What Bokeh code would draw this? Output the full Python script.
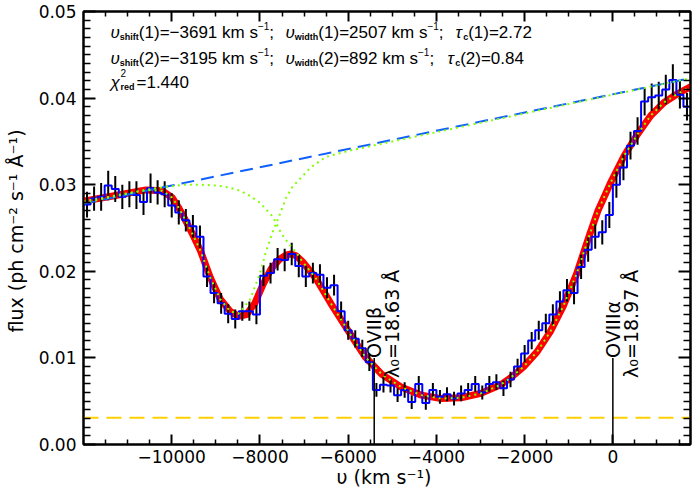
from math import pi
from bokeh.plotting import figure
from bokeh.models import Range1d, FixedTicker, LinearAxis, Label, NumeralTickFormatter
from bokeh.embed import file_html
from bokeh.resources import INLINE

# ---------------- data ----------------
bin_center = [-11920, -11760, -11600, -11440, -11280, -11120, -10960, -10800, -10640, -10480,
              -10320, -10160, -10000, -9840, -9680, -9520, -9360, -9200, -9040, -8880,
              -8720, -8560, -8400, -8240, -8080, -7920, -7760, -7600, -7440, -7280,
              -7120, -6960, -6800, -6640, -6480, -6320, -6160, -6000, -5840, -5680,
              -5520, -5360, -5200, -5040, -4880, -4720, -4560, -4400, -4240, -4080,
              -3920, -3760, -3600, -3440, -3280, -3120, -2960, -2800, -2640, -2480,
              -2320, -2160, -2000, -1840, -1680, -1520, -1360, -1200, -1040, -880,
              -720, -560, -400, -240, -80, 80, 240, 400, 560, 720,
              880, 1040, 1200, 1360, 1520, 1680]
flux = [0.0277, 0.0284, 0.0286, 0.0299, 0.0295, 0.0286, 0.0289, 0.0288, 0.0280, 0.0296,
        0.0291, 0.0289, 0.0276, 0.0268, 0.0259, 0.0252, 0.0240, 0.0194, 0.0175, 0.0163,
        0.0151, 0.0145, 0.0154, 0.0154, 0.0150, 0.0195, 0.0198, 0.0214, 0.0213, 0.0220,
        0.0206, 0.0194, 0.0198, 0.0196, 0.0181, 0.0184, 0.0154, 0.0132, 0.0122, 0.0111,
        0.0095, 0.0063, 0.0069, 0.0068, 0.0057, 0.0063, 0.0049, 0.0070, 0.0048, 0.0063,
        0.0055, 0.0058, 0.0053, 0.0059, 0.0063, 0.0070, 0.0060, 0.0070, 0.0072, 0.0065,
        0.0075, 0.0090, 0.0105, 0.0120, 0.0132, 0.0140, 0.0150, 0.0165, 0.0178, 0.0175,
        0.0205, 0.0225, 0.0240, 0.0245, 0.0265, 0.0300, 0.0320, 0.0345, 0.0362, 0.0396,
        0.0401, 0.0403, 0.0410, 0.0421, 0.0404, 0.0390]
flux_err = [0.0015, 0.0014, 0.0016, 0.0017, 0.0015, 0.0014, 0.0015, 0.0016, 0.0015, 0.0017,
            0.0014, 0.0015, 0.0014, 0.0014, 0.0013, 0.0013, 0.0013, 0.0012, 0.0012, 0.0012,
            0.0011, 0.0011, 0.0011, 0.0011, 0.0011, 0.0012, 0.0012, 0.0013, 0.0013, 0.0013,
            0.0013, 0.0012, 0.0012, 0.0012, 0.0012, 0.0012, 0.0011, 0.0011, 0.0010, 0.0010,
            0.0010, 0.0008, 0.0009, 0.0008, 0.0008, 0.0009, 0.0008, 0.0009, 0.0008, 0.0008,
            0.0008, 0.0008, 0.0008, 0.0009, 0.0008, 0.0009, 0.0008, 0.0009, 0.0009, 0.0009,
            0.0009, 0.0009, 0.0010, 0.0010, 0.0011, 0.0011, 0.0012, 0.0012, 0.0013, 0.0013,
            0.0014, 0.0014, 0.0014, 0.0014, 0.0015, 0.0015, 0.0015, 0.0016, 0.0016, 0.0016,
            0.0016, 0.0016, 0.0017, 0.0018, 0.0016, 0.0016]

model_v = [-12000, -11335, -10586, -10213, -9989, -9838, -9688, -9500, -9351, -9127,
           -8902, -8678, -8491, -8305, -8117, -7930, -7744, -7555, -7400, -7295,
           -7180, -7033, -6734, -6359, -5984, -5612, -5237, -4788, -4339, -3890,
           -3441, -2992, -2543, -2319, -2020, -1719, -1421, -1122, -822, -523,
           -337, -36, 263, 568, 862, 1160, 1466, 1760]
model_flux = [0.0281, 0.0287, 0.0294, 0.0293, 0.0285, 0.0273, 0.0259, 0.0240, 0.0224, 0.0193,
              0.0168, 0.0154, 0.0148, 0.0150, 0.0163, 0.0185, 0.0203, 0.0214, 0.0219, 0.0220,
              0.0218, 0.0211, 0.0192, 0.0160, 0.0130, 0.0101, 0.0081, 0.0066, 0.0057, 0.0053,
              0.0054, 0.0059, 0.0069, 0.0077, 0.0090, 0.0107, 0.0130, 0.0160, 0.0197, 0.0243,
              0.0270, 0.0304, 0.0334, 0.0359, 0.0380, 0.0395, 0.0405, 0.0413]

# component 1 (broad trough): own left wing, then coincides with the total model
comp1_left_v = [-12000, -11335, -10586, -10213, -9725, -9351, -8986, -8716, -8447, -8222,
                -7998, -7706, -7519, -7350, -7182, -7033]
comp1_left_flux = [0.0279, 0.0286, 0.0294, 0.0297, 0.0300, 0.0300, 0.0299, 0.0297, 0.0293, 0.0287,
                   0.0279, 0.0263, 0.0244, 0.0232, 0.0222, 0.0211]
# component 2 (narrow trough): coincides with the total model on its left, own right wing
comp2_right_v = [-8491, -8228, -8004, -7856, -7706, -7547, -7407, -7257, -7145, -6846,
                 -6509, -6000, 1760]
comp2_right_flux = [0.0151, 0.0167, 0.0197, 0.0224, 0.0246, 0.0266, 0.0285, 0.0298, 0.0304, 0.0320,
                    0.0332, 0.0339, 0.0423]

cont_v = [-12000, 1760]
cont_flux = [0.0278, 0.0423]
background_flux = 0.0031

line_v = [-5410, 0]
line_top = 0.01
line_names = ["OVIIβ", "OVIIIα"]
line_lambda = ["λ₀=18.63 Å", "λ₀=18.97 Å"]

v_shift = [-3691, -3195]
v_width = [2507, 892]
tau_c = [2.72, 0.84]
chi2_red = 1.440

x_ticks = [-10000, -8000, -6000, -4000, -2000, 0]
x_tick_labels = ["−10000", "−8000", "−6000", "−4000", "−2000", "0"]
x_minor = [-11500, -11000, -10500, -9500, -9000, -8500, -7500, -7000, -6500, -5500, -5000,
           -4500, -3500, -3000, -2500, -1500, -1000, -500, 500, 1000, 1500]
y_ticks = [0.0, 0.01, 0.02, 0.03, 0.04, 0.05]
y_minor = [0.001, 0.002, 0.003, 0.004, 0.005, 0.006, 0.007, 0.008, 0.009,
           0.011, 0.012, 0.013, 0.014, 0.015, 0.016, 0.017, 0.018, 0.019,
           0.021, 0.022, 0.023, 0.024, 0.025, 0.026, 0.027, 0.028, 0.029,
           0.031, 0.032, 0.033, 0.034, 0.035, 0.036, 0.037, 0.038, 0.039,
           0.041, 0.042, 0.043, 0.044, 0.045, 0.046, 0.047, 0.048, 0.049]

XMIN, XMAX = -12000, 1760
YMIN, YMAX = 0.0, 0.05

# ---------------- layout ----------------
W, H = 692, 492
B_LEFT, B_RIGHT, B_TOP, B_BOTTOM = 83, 2, 11, 48
FRAME_W = W - B_LEFT - B_RIGHT
FRAME_H = H - B_TOP - B_BOTTOM
DXPX = (XMAX - XMIN) / FRAME_W
DYPX = (YMAX - YMIN) / FRAME_H

p = figure(width=W, height=H, x_range=Range1d(XMIN, XMAX), y_range=Range1d(YMIN, YMAX),
           output_backend="svg", toolbar_location=None, title=None,
           min_border_left=B_LEFT, min_border_right=B_RIGHT,
           min_border_top=B_TOP, min_border_bottom=B_BOTTOM)
p.xgrid.visible = False
p.ygrid.visible = False
p.outline_line_color = "black"
p.outline_line_width = 2
p.background_fill_color = "white"
p.border_fill_color = "white"

p.add_layout(LinearAxis(), "above")
p.add_layout(LinearAxis(), "right")

TICK_FONT = "DejaVu Sans"
for ax in p.xaxis:
    ax.ticker = FixedTicker(ticks=x_ticks, minor_ticks=x_minor)
    ax.major_tick_in, ax.major_tick_out = 10, 0
    ax.minor_tick_in, ax.minor_tick_out = 5, 0
for ax in p.yaxis:
    ax.ticker = FixedTicker(ticks=y_ticks, minor_ticks=y_minor)
    ax.major_tick_in, ax.major_tick_out = 12, 0
    ax.minor_tick_in, ax.minor_tick_out = 7, 0
for ax in list(p.xaxis) + list(p.yaxis):
    ax.axis_line_width = 2
    ax.axis_line_color = "black"
    ax.major_tick_line_width = 2
    ax.minor_tick_line_width = 1.5
    ax.major_label_text_font = TICK_FONT
    ax.major_label_text_font_size = "17px"
    ax.major_label_text_color = "black"
    ax.axis_label_text_font = TICK_FONT
    ax.axis_label_text_font_style = "normal"
    ax.axis_label_text_font_size = "19px"
    ax.axis_label_text_color = "black"

bottom, top = p.below[0], p.above[0]
left, right = p.left[0], p.right[0]
bottom.major_label_overrides = dict(zip(x_ticks, x_tick_labels))
bottom.major_label_standoff = 5
bottom.axis_label = "υ  (km s⁻¹)"
bottom.axis_label_standoff = 0
left.formatter = NumeralTickFormatter(format="0.00")
left.major_label_standoff = 7
left.axis_label = "flux  (ph cm⁻² s⁻¹ Å⁻¹)"
left.axis_label_standoff = 9
for ax in (top, right):
    ax.major_label_text_font_size = "1px"
    ax.major_label_text_color = None
    ax.major_label_standoff = 0
    ax.axis_label = None

# ---------------- glyphs ----------------
p.line([XMIN, XMAX], [background_flux, background_flux], line_color="#FFD000",
       line_width=2, line_dash="15 8")

p.line(model_v, model_flux, line_color="#FF0000", line_width=7, line_join="round", line_cap="round")

lo = [f - e for f, e in zip(flux, flux_err)]
hi = [f + e for f, e in zip(flux, flux_err)]
p.segment(x0=bin_center, y0=lo, x1=bin_center, y1=hi, line_color="black", line_width=2)
half = (bin_center[1] - bin_center[0]) / 2
sx, sy = [], []
for c, f in zip(bin_center, flux):
    sx += [c - half, c + half]
    sy += [f, f]
p.line(sx, sy, line_color="#0000FF", line_width=2)

p.line(cont_v, cont_flux, line_color="#1060FF", line_width=2, line_dash="13 7")

i_join = model_v.index(-6734)
comp1_v = comp1_left_v + model_v[i_join:]
comp1_flux = comp1_left_flux + model_flux[i_join:]
i_cut = model_v.index(-8678)
comp2_v = model_v[:i_cut + 1] + comp2_right_v
comp2_flux = model_flux[:i_cut + 1] + comp2_right_flux
for vv, ff in ((comp1_v, comp1_flux), (comp2_v, comp2_flux)):
    p.line(vv, ff, line_color="#80FF00", line_width=2, line_dash="2 4")

p.segment(x0=line_v, y0=[0, 0], x1=line_v, y1=[line_top, line_top], line_color="black", line_width=1.5)
for v0, name, lam in zip(line_v, line_names, line_lambda):
    p.add_layout(Label(x=v0, y=line_top, text=name, angle=pi / 2, text_align="left",
                       text_baseline="alphabetic", text_font="DejaVu Sans",
                       text_font_size="19px", text_color="black"))
    p.add_layout(Label(x=v0 + 18 * DXPX, y=line_top - 20 * DYPX, text=lam, angle=pi / 2,
                       text_align="left", text_baseline="alphabetic", text_font="DejaVu Sans",
                       text_font_size="19px", text_color="black"))

# ---------------- annotation text ----------------
W_REG = {' ': .278, '(': .333, ')': .333, '=': .584, '−': .584, '.': .278, ';': .278,
         'k': .5, 'm': .833, 's': .5, 'υ': .55, 'τ': .45, 'χ': .52}
W_BOLD = {'s': .556, 'h': .611, 'i': .278, 'f': .333, 't': .333, 'w': .778, 'd': .611,
          'c': .556, 'r': .389, 'e': .556}


def tw(s, size, bold):
    tab = W_BOLD if bold else W_REG
    return sum(tab.get(ch, .556) for ch in s) * size


def fy(canvas_y):
    return YMAX - (canvas_y - B_TOP) * DYPX


def put(x_px, base_y, pieces):
    x = x_px
    for txt, size, style, dy, adv in pieces:
        p.add_layout(Label(x=XMIN, y=fy(base_y + dy), x_offset=x - B_LEFT, text=txt,
                           text_font="Liberation Sans", text_font_size=f"{size}px",
                           text_font_style=style, text_baseline="alphabetic",
                           text_color="black"))
        if adv:
            x += tw(txt, size, style == "bold")
    return x


def fmt_num(v):
    return ("−" + str(abs(v))) if v < 0 else str(v)


FS = 17
base = [32, 58]
tau_start = [455, 447]
for k in range(2):
    b = base[k]
    n = k + 1
    put(110, b, [("υ", FS, "italic", 0, True), ("shift", 9, "bold", 4, True),
                 (f"({n})={fmt_num(v_shift[k])} km s", FS, "normal", 0, True),
                 ("−1", 10, "normal", -7, True), (";", FS, "normal", 0, True)])
    put(285, b, [("υ", FS, "italic", 0, True), ("width", 9, "bold", 4, True),
                 (f"({n})={v_width[k]} km s", FS, "normal", 0, True),
                 ("−1", 10, "normal", -7, True), (";", FS, "normal", 0, True)])
    put(tau_start[k], b, [("τ", FS, "italic", 0, True), ("c", 9, "bold", 4, True),
                          (f"({n})={tau_c[k]:.2f}", FS, "normal", 0, True)])
put(110, 82, [("χ", FS, "italic", 0, True)])
put(120, 82, [("2", 10, "normal", -10, False), ("red", 9, "bold", 4, True)])
put(136, 82, [(f"={chi2_red:.3f}", FS, "normal", 0, True)])

open("out.html", "w").write(file_html(p, INLINE))
